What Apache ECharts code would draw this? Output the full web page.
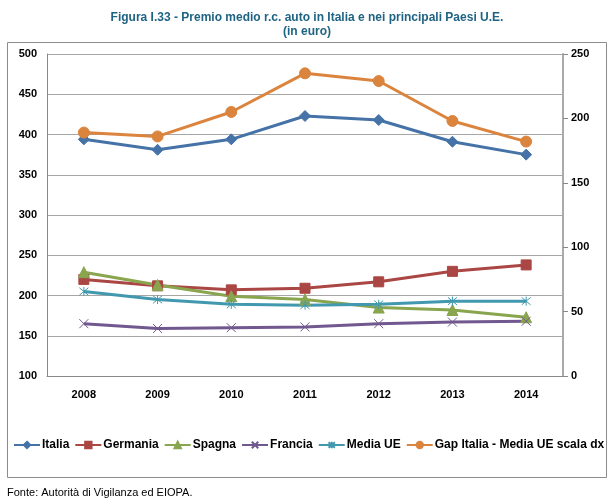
<!DOCTYPE html>
<html><head><meta charset="utf-8">
<script src="https://cdn.jsdelivr.net/npm/echarts@6/dist/echarts.min.js"></script>
<style>html,body{margin:0;padding:0;background:#fff}#c{width:614px;height:502px}</style>
</head><body><div id="c"></div>
<script>
var categories = ['2008','2009','2010','2011','2012','2013','2014'];
var italia   = [394, 381, 394, 423, 418, 391, 375];
var germania = [220, 212, 207, 209, 217, 230, 238];
var spagna   = [229, 213, 199, 195, 185, 182, 173];
var francia  = [165, 159, 160, 161, 165, 167, 168];
var mediaUE  = [205, 195, 189, 188, 189, 193, 193];
var gap      = [189, 186, 205, 235, 229, 198, 182];
var leftTicks = [100, 500, 50];
var rightTicks = [0, 250, 50];

var FONT = '"Liberation Sans", Arial, sans-serif';
var chart = echarts.init(document.getElementById('c'), null, {renderer:'canvas'});
function mk(name, data, color, symbol, size, yIdx){
  return {name:name, type:'line', data:data, yAxisIndex:yIdx||0, symbol:symbol, symbolSize:size,
    lineStyle:{color:color, width:3}, itemStyle:{color:color, borderColor:color, borderWidth:1},
    emphasis:{disabled:true}, z:3};
}
var xPath = 'path://M0,0L10,10M10,0L0,10';
var starPath = 'path://M0,0L10,10M10,0L0,10M5,-1L5,11';
chart.setOption({
  animation:false,
  textStyle:{fontFamily:FONT},
  title:{text:'Figura I.33 - Premio medio r.c. auto in Italia e nei principali Paesi U.E.\n(in euro)',
    left:'center', top:6, textStyle:{fontFamily:FONT, fontSize:12, fontWeight:'bold', color:'#1f6383', lineHeight:14}},
  graphic:[
    {type:'rect', shape:{x:7.5, y:42.5, width:599, height:435}, style:{fill:'none', stroke:'#8c8c8c', lineWidth:1}, z:-1},
    {type:'text', left:7, top:487, style:{text:'Fonte: Autorità di Vigilanza ed EIOPA.', font:'11px '+FONT, fill:'#000'}}
  ],
  legend:{top:439, left:13, width:600, padding:0, itemWidth:26, itemHeight:8, itemGap:5,
    textStyle:{fontFamily:FONT, fontSize:12, fontWeight:'bold', color:'#000', padding:[0,0,0,-3]},
    data:['Italia','Germania','Spagna','Francia','Media UE','Gap Italia - Media UE scala dx']},
  grid:{left:47, right:51, top:54, bottom:126},
  xAxis:{type:'category', data:categories, boundaryGap:true,
    axisLine:{lineStyle:{color:'#888', width:1}}, axisTick:{show:false},
    axisLabel:{fontFamily:FONT, fontSize:11, fontWeight:'bold', color:'#000', margin:13}},
  yAxis:[
    {type:'value', min:leftTicks[0], max:leftTicks[1], interval:leftTicks[2], position:'left',
     axisLine:{show:true, lineStyle:{color:'#888'}}, axisTick:{show:false},
     axisLabel:{fontFamily:FONT, fontSize:11, fontWeight:'bold', color:'#000', margin:10},
     splitLine:{lineStyle:{color:'#a6a6a6', width:1}}},
    {type:'value', min:rightTicks[0], max:rightTicks[1], interval:rightTicks[2], position:'right',
     axisLine:{show:true, lineStyle:{color:'#aaa', width:2}}, axisTick:{show:true, length:5, lineStyle:{color:'#888'}},
     axisLabel:{fontFamily:FONT, fontSize:11, fontWeight:'bold', color:'#000', margin:8},
     splitLine:{show:false}}
  ],
  series:[
    mk('Italia', italia, '#4572a7', 'diamond', 11, 0),
    mk('Germania', germania, '#aa4643', 'rect', 10, 0),
    mk('Spagna', spagna, '#89a54e', 'triangle', 11, 0),
    mk('Francia', francia, '#71588f', xPath, 9, 0),
    mk('Media UE', mediaUE, '#4198af', starPath, 9, 0),
    mk('Gap Italia - Media UE scala dx', gap, '#db843d', 'circle', 11, 1)
  ]
});
</script></body></html>
